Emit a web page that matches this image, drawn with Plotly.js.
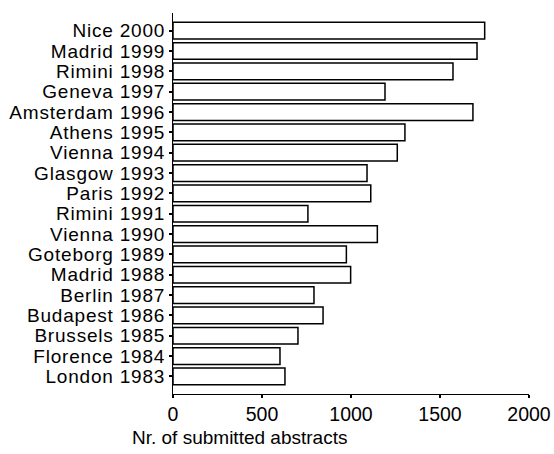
<!DOCTYPE html>
<html>
<head>
<meta charset="utf-8">
<script src="https://cdn.plot.ly/plotly-3.0.1.min.js"></script>
<style>
html,body{margin:0;padding:0;background:#fff;}
#chart .ytick text{letter-spacing:0.8px;}
</style>
</head>
<body>
<div id="chart" style="width:554px;height:454px;"></div>
<script>
// Categories listed bottom to top
var meetings = ["London 1983","Florence 1984","Brussels 1985","Budapest 1986","Berlin 1987",
  "Madrid 1988","Goteborg 1989","Vienna 1990","Rimini 1991","Paris 1992","Glasgow 1993",
  "Vienna 1994","Athens 1995","Amsterdam 1996","Geneva 1997","Rimini 1998","Madrid 1999","Nice 2000"];
var abstracts = [629, 601, 702, 843, 792, 998, 974, 1148, 758, 1111, 1090,
  1260, 1303, 1685, 1191, 1573, 1708, 1751];
var xTicks = [0, 500, 1000, 1500, 2000];
var xTitle = "Nr. of submitted abstracts";

var fam = "Liberation Sans, Arial, sans-serif";
var font = {family: fam, size: 19, color: "#000"};
var yFont = {family: fam, size: 19, color: "#000"};
var xFont = {family: fam, size: 19.5, color: "#000"};

var trace = {
  type: "bar",
  orientation: "h",
  y: meetings,
  x: abstracts,
  width: 0.82,
  marker: {color: "#fff", line: {color: "#000", width: 1.5}},
  hoverinfo: "x+y"
};

var layout = {
  width: 554, height: 454,
  margin: {l: 173, r: 25, t: 13, b: 60, pad: 0},
  paper_bgcolor: "#fff", plot_bgcolor: "#fff",
  font: font,
  showlegend: false,
  xaxis: {
    range: [0, 2000], autorange: false, tickmode: "array", tickvals: xTicks, ticktext: xTicks.map(String),
    showgrid: false, zeroline: false, showline: true, linecolor: "#000", linewidth: 1,
    ticks: "outside", ticklen: 3, tickwidth: 2, tickcolor: "#000",
    tickfont: xFont, fixedrange: true, automargin: false
  },
  yaxis: {
    type: "category", categoryorder: "array", categoryarray: meetings,
    autorange: false, range: [-0.865, 17.87],
    tickmode: "array", tickvals: meetings, ticktext: meetings,
    showgrid: false, zeroline: false, showline: true, linecolor: "#000", linewidth: 1,
    ticks: "outside", ticklen: 3, tickwidth: 2, tickcolor: "#000",
    tickfont: yFont, fixedrange: true, automargin: false
  },
  annotations: [{
    text: xTitle, xref: "paper", yref: "paper", x: 0.188, y: -0.113,
    xanchor: "center", yanchor: "middle", showarrow: false, font: font
  }]
};

Plotly.newPlot("chart", [trace], layout, {displayModeBar: false, staticPlot: true});
</script>
</body>
</html>
